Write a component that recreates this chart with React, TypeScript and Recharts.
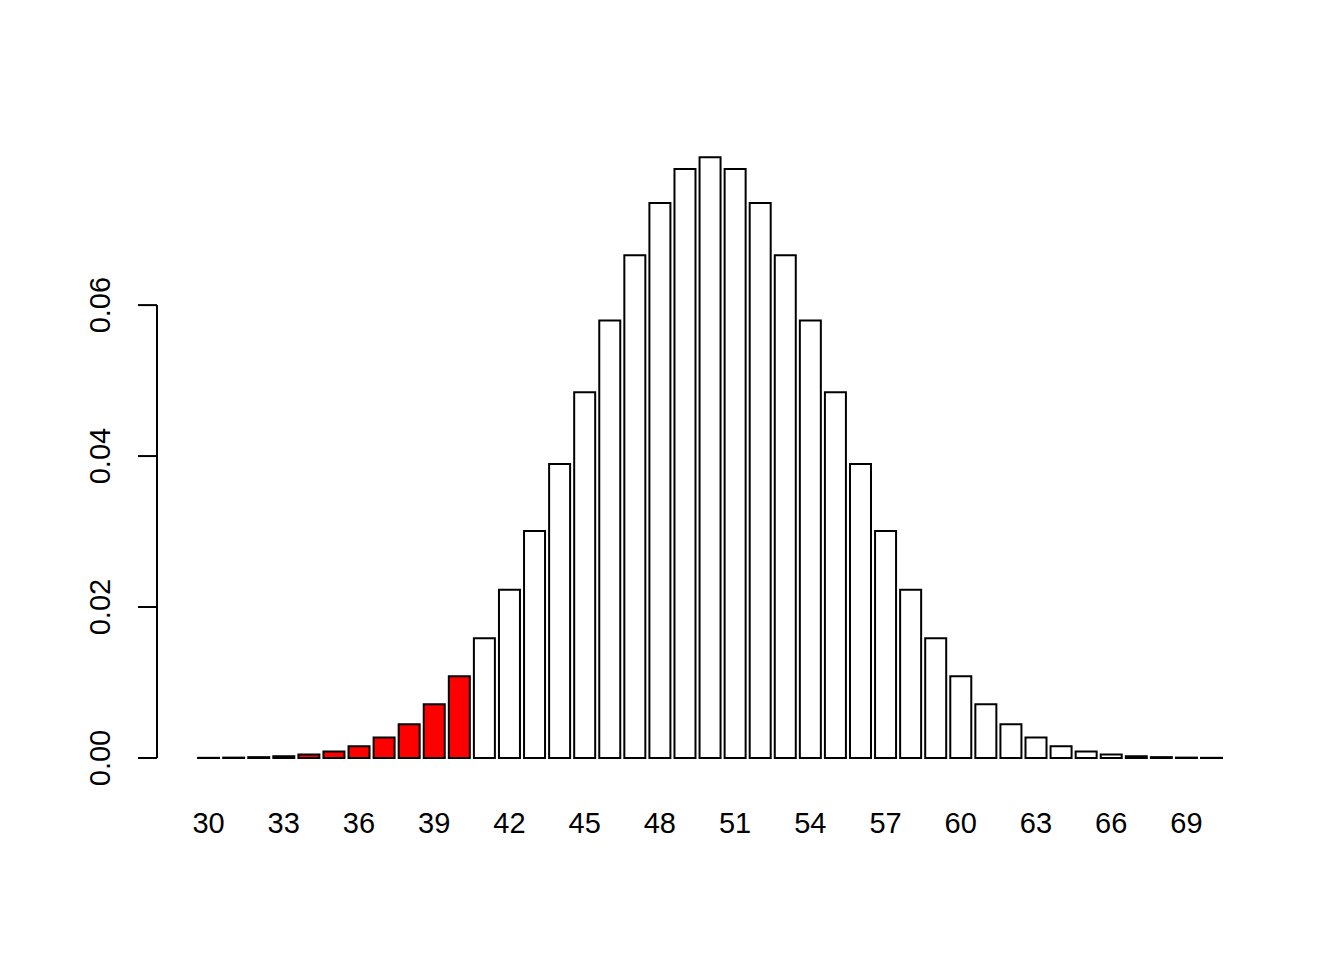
import React from 'react';
import { BarChart, Bar, XAxis, YAxis, Cell, ReferenceLine } from 'recharts';

// outcomes 30..70
const outcomes = [
  '30', '31', '32', '33', '34', '35', '36', '37', '38', '39', '40',
  '41', '42', '43', '44', '45', '46', '47', '48', '49', '50',
  '51', '52', '53', '54', '55', '56', '57', '58', '59', '60',
  '61', '62', '63', '64', '65', '66', '67', '68', '69', '70',
];

const probs = [
  0.000023, 0.000052, 0.000113, 0.000233, 0.000459, 0.000864, 0.00156, 0.0027, 0.00447, 0.00711, 0.01084,
  0.01587, 0.02229, 0.03007, 0.03895, 0.04847, 0.05796, 0.06659, 0.07353, 0.07803, 0.07959,
  0.07803, 0.07353, 0.06659, 0.05796, 0.04847, 0.03895, 0.03007, 0.02229, 0.01587, 0.01084,
  0.00711, 0.00447, 0.0027, 0.00156, 0.000864, 0.000459, 0.000233, 0.000113, 0.000052, 0.000023,
];

// lower tail shaded red
const shaded = [
  '30', '31', '32', '33', '34', '35', '36', '37', '38', '39', '40',
];

const xTicks = ['30', '33', '36', '39', '42', '45', '48', '51', '54', '57', '60', '63', '66', '69'];
const yTicks = [0, 0.02, 0.04, 0.06];

const data = outcomes.map((k, i) => ({ k, p: probs[i] }));

const FONT = '"Liberation Sans", Arial, sans-serif';

const XTick = (props: any) => {
  const { x, y, payload } = props;
  return (
    <text x={x} y={y + 51} textAnchor="middle" fontSize={29} fontFamily={FONT} fill="#000">
      {payload.value}
    </text>
  );
};

const YTick = (props: any) => {
  const { x, y, payload } = props;
  const cx = x - 57;
  return (
    <g>
      <line x1={x - 19} y1={y} x2={x} y2={y} stroke="#000" strokeWidth={2} />
      <text
        x={cx}
        y={y}
        transform={`rotate(-90, ${cx}, ${y})`}
        textAnchor="middle"
        dominantBaseline="central"
        fontSize={29}
        fontFamily={FONT}
        fill="#000"
      >
        {payload.value.toFixed(2)}
      </text>
    </g>
  );
};

export default function App() {
  return (
    <div style={{ position: 'absolute', left: 0, top: 0, width: 1344, height: 960, background: '#fff' }}>
      <BarChart
        width={1344}
        height={960}
        data={data}
        margin={{ top: 133, right: 81, bottom: 78, left: 97 }}
        barCategoryGap="8.33%"
      >
        <XAxis
          dataKey="k"
          ticks={xTicks}
          interval={0}
          axisLine={false}
          tickLine={false}
          tickSize={0}
          tickMargin={0}
          height={100}
          padding={{ left: 39, right: 39 }}
          tick={<XTick />}
        />
        <XAxis xAxisId="n" type="number" domain={[0, 1]} hide allowDataOverflow />
        <YAxis
          domain={[-0.00318, 0.0828]}
          allowDataOverflow
          ticks={yTicks}
          axisLine={false}
          tickLine={false}
          tickSize={0}
          tickMargin={0}
          width={60}
          tick={<YTick />}
        />
        <ReferenceLine
          xAxisId="n"
          segment={[{ x: 0, y: 0 }, { x: 0, y: 0.06 }]}
          stroke="#000"
          strokeWidth={2}
          ifOverflow="visible"
        />
        <Bar dataKey="p" stroke="#000" strokeWidth={2} isAnimationActive={false}>
          {data.map((d, i) => (
            <Cell key={`c-${i}`} fill={shaded.includes(d.k) ? '#ff0000' : '#ffffff'} />
          ))}
        </Bar>
      </BarChart>
    </div>
  );
}
